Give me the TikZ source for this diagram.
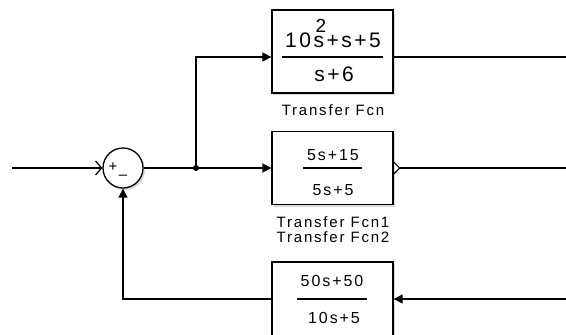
\documentclass[tikz,border=0pt]{standalone}
\usepackage{fontspec}
\setmainfont{Liberation Sans}
\newfontfamily\slfont[LetterSpace=12]{Liberation Sans}
\usetikzlibrary{arrows.meta,shadows}

\tikzset{
  blk/.style={draw, line width=1.3pt, fill=white, minimum width=121pt,
    inner sep=0pt, drop shadow={opacity=0.3, shadow xshift=2pt, shadow yshift=-2pt}},
  sig/.style={line width=1.2pt},
  tip/.style={-{Triangle[length=9pt,width=9pt]}},
  lbl/.style={font=\fontsize{15}{16}\slfont},
  tf/.style={font=\fontsize{16}{17}\slfont},
  bar/.style={line width=1.4pt},
}

\begin{document}
\begin{tikzpicture}[x=1pt,y=-1pt]
  \useasboundingbox (0,0) rectangle (566,335);
  \clip (0,0) rectangle (566,335);
  % blocks
  \node[blk, minimum height=83pt] (tfTop) at (332.5,51.5) {};
  \node[blk, minimum height=73pt] (tfMid) at (332.5,168) {};
  \node[blk, minimum height=74pt] (tfFb) at (332.5,299) {};
  \node[circle, draw, line width=1.3pt, fill=white, minimum size=40pt, inner sep=0pt,
    drop shadow={opacity=0.3, shadow xshift=2pt, shadow yshift=-2pt}] (sum) at (123,168) {};
  \node[font=\fontsize{15}{15}\selectfont] (plus) at (113,167) {+};
  \node[font=\fontsize{15}{15}\selectfont] (minus) at (123,177) {–};
  % points
  \coordinate (in) at (12,168);
  \coordinate (branch) at (196,168);
  \coordinate (brUp) at (196,57);
  \coordinate (outTop) at (566,57);
  \coordinate (outMid) at (566,168);
  \coordinate (inFb) at (566,299);
  % top block
  \node[font=\fontsize{21}{21}\slfont] (topNum) at (333,40) {10s+s+5};
  \node[font=\fontsize{19}{19}\slfont] (topSq) at (321,26) {2};
  \draw[bar] (282,57) -- (383,57);
  \node[font=\fontsize{21}{21}\slfont] (topDen) at (334,74) {s+6};
  \node[lbl] (topLbl) at (333,110) {Transfer Fcn};
  % middle block
  \node[tf] (midNum) at (333,155) {5s+15};
  \draw[bar] (303,168) -- (362,168);
  \node[tf] (midDen) at (333,190) {5s+5};
  \node[lbl] (midLbl1) at (333,222) {Transfer Fcn1};
  \node[lbl] (midLbl2) at (333,237) {Transfer Fcn2};
  % feedback block
  \node[tf] (fbNum) at (332,281) {50s+50};
  \draw[bar] (297,299) -- (367,299);
  \node[tf] (fbDen) at (334,318) {10s+5};
  % signals
  \draw[sig, -{Straight Barb[length=6pt,width=14pt]}] (in) -- (sum);
  \draw[sig] (sum) -- (branch);
  \fill (branch) circle (3pt);
  \draw[sig, tip] (branch) -- (brUp) -- (brUp -| tfTop.west);
  \draw[sig, tip] (branch) -- (tfMid);
  \draw[sig] (brUp -| tfTop.east) -- (outTop);
  \draw[sig] (tfMid.east) ++(0,-6) -- ++(6,6) coordinate (midPort) -- ++(-6,6);
  \draw[sig] (midPort) -- (outMid);
  \draw[sig, tip] (inFb) -- (tfFb);
  \draw[sig, tip] (tfFb) -- (tfFb.west -| sum) -- (sum);
\end{tikzpicture}
\end{document}
